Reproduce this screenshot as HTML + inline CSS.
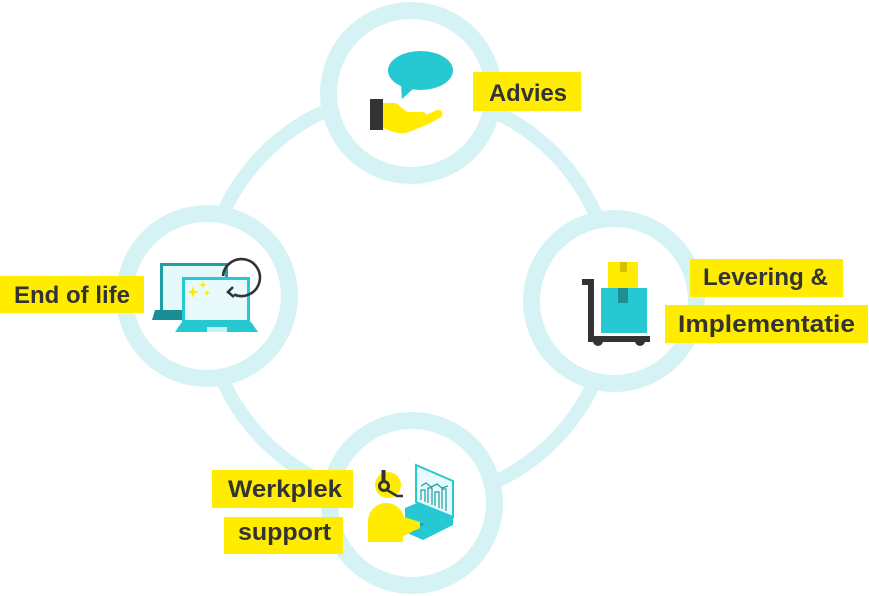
<!DOCTYPE html>
<html><head><meta charset="utf-8"><style>
html,body{margin:0;padding:0;background:#fff;}
svg{display:block;}
text{font-family:"Liberation Sans",sans-serif;font-weight:bold;font-size:24px;fill:#333333;}
</style></head><body>
<svg width="869" height="596" viewBox="0 0 869 596" xmlns="http://www.w3.org/2000/svg">
<!-- big connecting ring -->
<circle cx="409" cy="297" r="204" fill="none" stroke="#d5f3f5" stroke-width="14"/>
<!-- small circles -->
<circle cx="411" cy="93" r="82.5" fill="#fff" stroke="#d5f3f5" stroke-width="17"/>
<circle cx="207" cy="296" r="82.5" fill="#fff" stroke="#d5f3f5" stroke-width="17"/>
<circle cx="614" cy="301" r="82.5" fill="#fff" stroke="#d5f3f5" stroke-width="17"/>
<circle cx="412" cy="503" r="82.5" fill="#fff" stroke="#d5f3f5" stroke-width="17"/>

<!-- Advies icon -->
<ellipse cx="420.5" cy="70.5" rx="32.5" ry="19.5" fill="#26c9d1"/>
<polygon points="401,85 414,88 402,99" fill="#26c9d1"/>
<rect x="370" y="99" width="13" height="31" fill="#333"/>
<path d="M383,103 L395,103 C399,104 403,110 408,112 L421,112 C424,112 426,113 426,115 L437,110 C441,109 443,112 442,116 C440,119 420,128 406,133 C398,134 390,131 383,128 Z" fill="#ffec00"/>

<!-- Cart icon -->
<rect x="608" y="262" width="30" height="27" fill="#ffec00"/>
<rect x="620" y="262" width="7" height="10" fill="#d2c200"/>
<rect x="601" y="288" width="46" height="45" fill="#26c9d1"/>
<rect x="618" y="288" width="10" height="15" fill="#1e8f94"/>
<path d="M582,282 L591,282 L591,339 L650,339" fill="none" stroke="#333" stroke-width="6"/>
<circle cx="598" cy="341" r="5" fill="#333"/>
<circle cx="640" cy="341" r="5" fill="#333"/>

<!-- End of life icon -->
<rect x="161.5" y="264.5" width="65" height="47" fill="#e6f9fa" stroke="#1f9ea4" stroke-width="3"/>
<polygon points="155,310 228,310 231,320 152,320" fill="#1a8e94"/>
<rect x="183.5" y="278.5" width="65" height="43" fill="#e8fafb" stroke="#26c9d1" stroke-width="3"/>
<polygon points="182,322 251,322 258,332 175,332" fill="#26c9d1"/>
<rect x="207" y="327" width="20" height="5" fill="#c9f1f3"/>
<path d="M193,286 L194.5,290.5 L199,292 L194.5,293.5 L193,298 L191.5,293.5 L187,292 L191.5,290.5 Z" fill="#ffec00"/>
<path d="M203,281 L204,284 L207,285 L204,286 L203,289 L202,286 L199,285 L202,284 Z" fill="#ffec00"/>
<path d="M207,290 L208,292 L210,293 L208,294 L207,296 L206,294 L204,293 L206,292 Z" fill="#ffec00"/>
<path d="M223,276 A18.5,18.5 0 1 1 234,294.5" fill="none" stroke="#333" stroke-width="2.6"/>
<path d="M233,287 L228,292 L234,297" fill="none" stroke="#333" stroke-width="2.6"/>

<!-- Werkplek icon -->
<polygon points="416,465 453,481 453,517 416,502" fill="#e8fafb" stroke="#26c9d1" stroke-width="2"/>
<polyline points="421,486 426,483 431,487 437,484 442,488 448,486" fill="none" stroke="#1f9ea4" stroke-width="1.3"/>
<g fill="none" stroke="#1f9ea4" stroke-width="1.2">
<polyline points="421,500 421,490 425,490 425,502"/>
<polyline points="428,503 428,488 432,488 432,505"/>
<polyline points="435,506 435,492 439,492 439,508"/>
<polyline points="442,509 442,489 446,489 446,511"/>
</g>
<polygon points="405,508 417,503 453,517 453,525 423,540 405,532" fill="#26c9d1"/>
<polygon points="405,518 425,524 413,532 403,528" fill="#1ea9b0"/>
<circle cx="388" cy="485" r="13" fill="#ffec00"/>
<path d="M368,542 L368,522 C368,511 376,503 386,503 C395,503 402,509 404,517 L420,522 L420,528 L403,536 L403,542 Z" fill="#ffec00"/>
<rect x="381.5" y="470" width="4" height="12" fill="#333"/>
<circle cx="384" cy="486" r="4.5" fill="none" stroke="#333" stroke-width="3"/>
<polyline points="387,490 397,496 403,496" fill="none" stroke="#333" stroke-width="2.5"/>

<!-- Labels -->
<rect x="473" y="72" width="108" height="39" fill="#ffec00"/>
<text x="489" y="101" textLength="78" lengthAdjust="spacingAndGlyphs">Advies</text>

<rect x="690" y="259" width="153" height="38" fill="#ffec00"/>
<text x="703" y="285" textLength="125" lengthAdjust="spacingAndGlyphs">Levering &amp;</text>
<rect x="665" y="305" width="203" height="38" fill="#ffec00"/>
<text x="678" y="332" textLength="177" lengthAdjust="spacingAndGlyphs">Implementatie</text>

<rect x="0" y="276" width="144" height="37" fill="#ffec00"/>
<text x="14" y="303" textLength="116" lengthAdjust="spacingAndGlyphs">End of life</text>

<rect x="212" y="470" width="141" height="38" fill="#ffec00"/>
<text x="228" y="497" textLength="114" lengthAdjust="spacingAndGlyphs">Werkplek</text>
<rect x="224" y="517" width="119" height="37" fill="#ffec00"/>
<text x="238" y="540" textLength="93" lengthAdjust="spacingAndGlyphs">support</text>
</svg>
</body></html>
